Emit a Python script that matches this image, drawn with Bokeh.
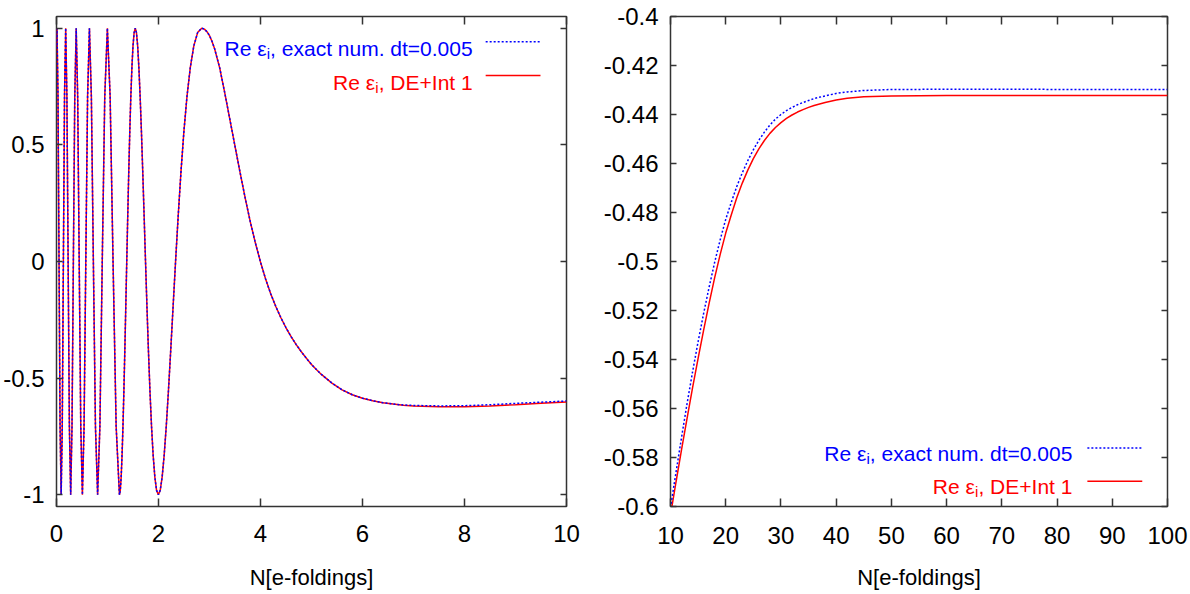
from bokeh.plotting import figure
from bokeh.layouts import row
from bokeh.models import Range1d, FixedTicker, LinearAxis
from bokeh.core.properties import value
from bokeh.embed import file_html
from bokeh.resources import INLINE

# ---------------- data ----------------
left_xticks = [0, 2, 4, 6, 8, 10]
left_xlabels = ["0", "2", "4", "6", "8", "10"]
left_yticks = [-1, -0.5, 0, 0.5, 1]
left_ylabels = ["-1", "-0.5", "0", "0.5", "1"]

right_xticks = [10, 20, 30, 40, 50, 60, 70, 80, 90, 100]
right_xlabels = ["10", "20", "30", "40", "50", "60", "70", "80", "90", "100"]
right_yticks = [-0.6, -0.58, -0.56, -0.54, -0.52, -0.5, -0.48, -0.46, -0.44, -0.42, -0.4]
right_ylabels = ["-0.6", "-0.58", "-0.56", "-0.54", "-0.52", "-0.5", "-0.48", "-0.46", "-0.44", "-0.42", "-0.4"]

# oscillating part, common to both curves
osc_N = [0.0, 0.0096, 0.0294, 0.0497, 0.0703, 0.0913, 0.1129, 0.1349, 0.1573, 0.1803,
         0.2039, 0.2280, 0.2527, 0.2780, 0.3040, 0.3307, 0.3581, 0.3863, 0.4152, 0.4451,
         0.4759, 0.5077, 0.5405, 0.5744, 0.6095, 0.6459, 0.6836, 0.7229, 0.7637, 0.8063,
         0.8508, 0.8973, 0.9462, 0.9975, 1.0516, 1.1088, 1.1695, 1.2341, 1.2509, 1.2680,
         1.2854, 1.3031, 1.3212, 1.3396, 1.3583, 1.3773, 1.3968, 1.4166, 1.4368, 1.4574,
         1.4785, 1.5001, 1.5221, 1.5446, 1.5676, 1.5912, 1.6153, 1.6400, 1.6654, 1.6914,
         1.7181, 1.7455, 1.7738, 1.8028, 1.8327, 1.8635, 1.8953, 1.9282, 1.9622, 1.9973,
         2.0338, 2.0716, 2.1109, 2.1518, 2.1945, 2.2390, 2.2857, 2.3346, 2.3860, 2.4402,
         2.4976, 2.5584, 2.6232, 2.6925, 2.7669, 2.8473, 2.90, 2.95, 3.0, 3.05, 3.1,
         3.2, 3.3, 3.4, 3.5, 3.6, 3.7, 3.8, 3.9, 4.0,
         4.1, 4.2, 4.3, 4.4, 4.5, 4.6, 4.7, 4.8, 4.9, 5.0, 5.1, 5.2, 5.4, 5.6, 5.8, 6.0,
         6.2, 6.4, 6.6]
osc_val = [0.925, 1.0, 0.707, 0.0, -0.707, -1.0, -0.707, 0.0, 0.707, 1.0,
           0.707, 0.0, -0.707, -1.0, -0.707, 0.0, 0.707, 1.0, 0.707, 0.0,
           -0.707, -1.0, -0.707, 0.0, 0.707, 1.0, 0.707, 0.0, -0.707, -1.0,
           -0.707, 0.0, 0.707, 1.0, 0.707, 0.0, -0.707, -1.0, -0.981, -0.924,
           -0.831, -0.707, -0.556, -0.383, -0.195, 0.0, 0.195, 0.383, 0.556, 0.707,
           0.831, 0.924, 0.981, 1.0, 0.981, 0.924, 0.831, 0.707, 0.556, 0.383,
           0.195, 0.0, -0.195, -0.383, -0.556, -0.707, -0.831, -0.924, -0.981, -1.0,
           -0.981, -0.924, -0.831, -0.707, -0.556, -0.383, -0.195, 0.0, 0.195, 0.383,
           0.556, 0.707, 0.831, 0.924, 0.981, 1.0, 0.996, 0.985, 0.968, 0.943, 0.912,
           0.830, 0.722, 0.608, 0.494, 0.381, 0.272, 0.170, 0.079, -0.002,
           -0.075, -0.138, -0.193, -0.241, -0.284, -0.322, -0.356, -0.387, -0.415, -0.441, -0.464, -0.485, -0.521, -0.550, -0.571, -0.586,
           -0.597, -0.605, -0.611]
tail_N = [6.8, 7.0, 7.5, 8.0, 8.5, 9.0, 9.5, 10.0]
tail_red = [-0.616, -0.619, -0.622, -0.622, -0.619, -0.614, -0.608, -0.602]
tail_blue = [-0.615, -0.617, -0.619, -0.618, -0.614, -0.608, -0.603, -0.598]

left_N = osc_N + tail_N
left_red = osc_val + tail_red
left_blue = osc_val + tail_blue

right_N = [10, 11, 12, 13, 14, 15, 16, 17, 18, 19, 20, 21, 22, 23, 24, 25, 26, 27, 28, 29,
           30, 31, 32, 33, 34, 35, 36, 38, 40, 42, 45, 50, 60, 100]
right_red = [-0.6035, -0.5900, -0.5768, -0.5640, -0.5515, -0.5395, -0.5280, -0.5170, -0.5066, -0.4971,
             -0.4884, -0.4810, -0.4740, -0.4680, -0.4627, -0.4580, -0.4540, -0.4506, -0.4477, -0.4453,
             -0.4433, -0.4416, -0.4402, -0.4390, -0.4380, -0.4371, -0.4363, -0.4351, -0.4341, -0.4334,
             -0.4328, -0.4324, -0.4322, -0.4322]
right_blue = [-0.6005, -0.5860, -0.5718, -0.5580, -0.5450, -0.5327, -0.5212, -0.5104, -0.5003, -0.4911,
              -0.4828, -0.4759, -0.4694, -0.4638, -0.4588, -0.4544, -0.4505, -0.4472, -0.4443, -0.4419,
              -0.4400, -0.4384, -0.4371, -0.4360, -0.4351, -0.4343, -0.4335, -0.4324, -0.4314, -0.4308,
              -0.4302, -0.4298, -0.4297, -0.4298]

label_pre = "Re ε"
label_sub = "i"
label_blue_suf = ", exact num. dt=0.005"
label_red_suf = ", DE+Int 1"
xlabel = "N[e-foldings]"

# ---------------- styling ----------------
FONT = "Liberation Sans"
BLUE = "#0000ff"
RED = "#ff0000"
DARK = "#333333"
TICK_FS = "24px"
XLAB_FS = "22px"
LEG_FS = "21px"
SUB_FS = "15px"
SUF1_W = 202.5
SUF2_W = 94.0
SUB_W = 3.6


def style_axes(p, xt, xl, yt, yl, xstand, ystand, lab_stand):
    p.xgrid.visible = False
    p.ygrid.visible = False
    p.outline_line_color = DARK
    p.outline_line_width = 1.5
    for ax, ticks, labels, tin, stand in ((p.xaxis[0], xt, xl, 8, xstand), (p.yaxis[0], yt, yl, 6, ystand)):
        ax.ticker = FixedTicker(ticks=ticks)
        ax.major_label_overrides = dict(zip(ticks, labels))
        ax.major_tick_in = tin
        ax.major_tick_out = 0
        ax.minor_tick_line_color = None
        ax.axis_line_color = None
        ax.major_tick_line_color = DARK
        ax.major_tick_line_width = 1.5
        ax.major_label_text_font = FONT
        ax.major_label_text_font_size = TICK_FS
        ax.major_label_text_color = "black"
        ax.major_label_standoff = stand
    p.xaxis.axis_label = xlabel
    p.xaxis.axis_label_text_font = FONT
    p.xaxis.axis_label_text_font_size = XLAB_FS
    p.xaxis.axis_label_text_font_style = "normal"
    p.xaxis.axis_label_text_color = "black"
    p.xaxis.axis_label_standoff = lab_stand
    # mirrored ticks on top and right (no labels drawn)
    top = LinearAxis(ticker=FixedTicker(ticks=xt), major_label_text_font_size="1px",
                     major_label_text_color=None, major_label_standoff=0,
                     axis_line_color=None, major_tick_in=8, major_tick_out=0,
                     minor_tick_line_color=None, major_tick_line_color=DARK,
                     major_tick_line_width=1.5)
    right = LinearAxis(ticker=FixedTicker(ticks=yt), major_label_text_font_size="1px",
                       major_label_text_color=None, major_label_standoff=0,
                       axis_line_color=None, major_tick_in=6, major_tick_out=0,
                       minor_tick_line_color=None, major_tick_line_color=DARK,
                       major_tick_line_width=1.5)
    p.add_layout(top, "above")
    p.add_layout(right, "right")


def legend(p, x_txt, x0, x1, y1_txt, y1_line, y2_txt, y2_line):
    for y_txt, suf, suf_w, col in ((y1_txt, label_blue_suf, SUF1_W, BLUE),
                                   (y2_txt, label_red_suf, SUF2_W, RED)):
        p.text(x=[x_txt], y=[y_txt], text=[suf], text_font=value(FONT),
               text_font_size=LEG_FS, text_color=col, text_align="right",
               text_baseline="alphabetic")
        p.text(x=[x_txt], y=[y_txt], text=[label_sub], text_font=value(FONT),
               text_font_size=SUB_FS, text_color=col, text_align="right",
               text_baseline="alphabetic", x_offset=-suf_w, y_offset=5)
        p.text(x=[x_txt], y=[y_txt], text=[label_pre], text_font=value(FONT),
               text_font_size=LEG_FS, text_color=col, text_align="right",
               text_baseline="alphabetic", x_offset=-(suf_w + SUB_W))
    p.segment(x0=[x0], y0=[y1_line], x1=[x1], y1=[y1_line], line_color=BLUE,
              line_width=1.5, line_dash="2 2")
    p.segment(x0=[x0], y0=[y2_line], x1=[x1], y1=[y2_line], line_color=RED, line_width=1.5)


# ---------------- left panel ----------------
pl = figure(width=600, height=594, x_range=Range1d(0, 10), y_range=Range1d(-1.05, 1.05),
            output_backend="svg", toolbar_location=None,
            min_border_left=55, min_border_right=34, min_border_top=14, min_border_bottom=88)
style_axes(pl, left_xticks, left_xlabels, left_yticks, left_ylabels, 18, 12, 20)
pl.line(left_N, left_red, line_color=RED, line_width=1.5)
pl.line(left_N, left_blue, line_color=BLUE, line_width=1.5, line_dash="2 2")
legend(pl, 8.16, 8.415, 9.49, 0.9147, 0.9420, 0.7683, 0.7969)

# ---------------- right panel ----------------
pr = figure(width=590, height=594, x_range=Range1d(10, 100), y_range=Range1d(-0.6, -0.4),
            output_backend="svg", toolbar_location=None,
            min_border_left=69, min_border_right=23, min_border_top=16, min_border_bottom=86)
style_axes(pr, right_xticks, right_xlabels, right_yticks, right_ylabels, 20, 12, 18)
pr.line(right_N, right_red, line_color=RED, line_width=1.5)
pr.line(right_N, right_blue, line_color=BLUE, line_width=1.5, line_dash="2 2")
legend(pr, 82.78, 85.49, 95.43, -0.5785, -0.5761, -0.5920, -0.5897)

layout = row(pl, pr)
open("out.html", "w").write(file_html(layout, INLINE))
